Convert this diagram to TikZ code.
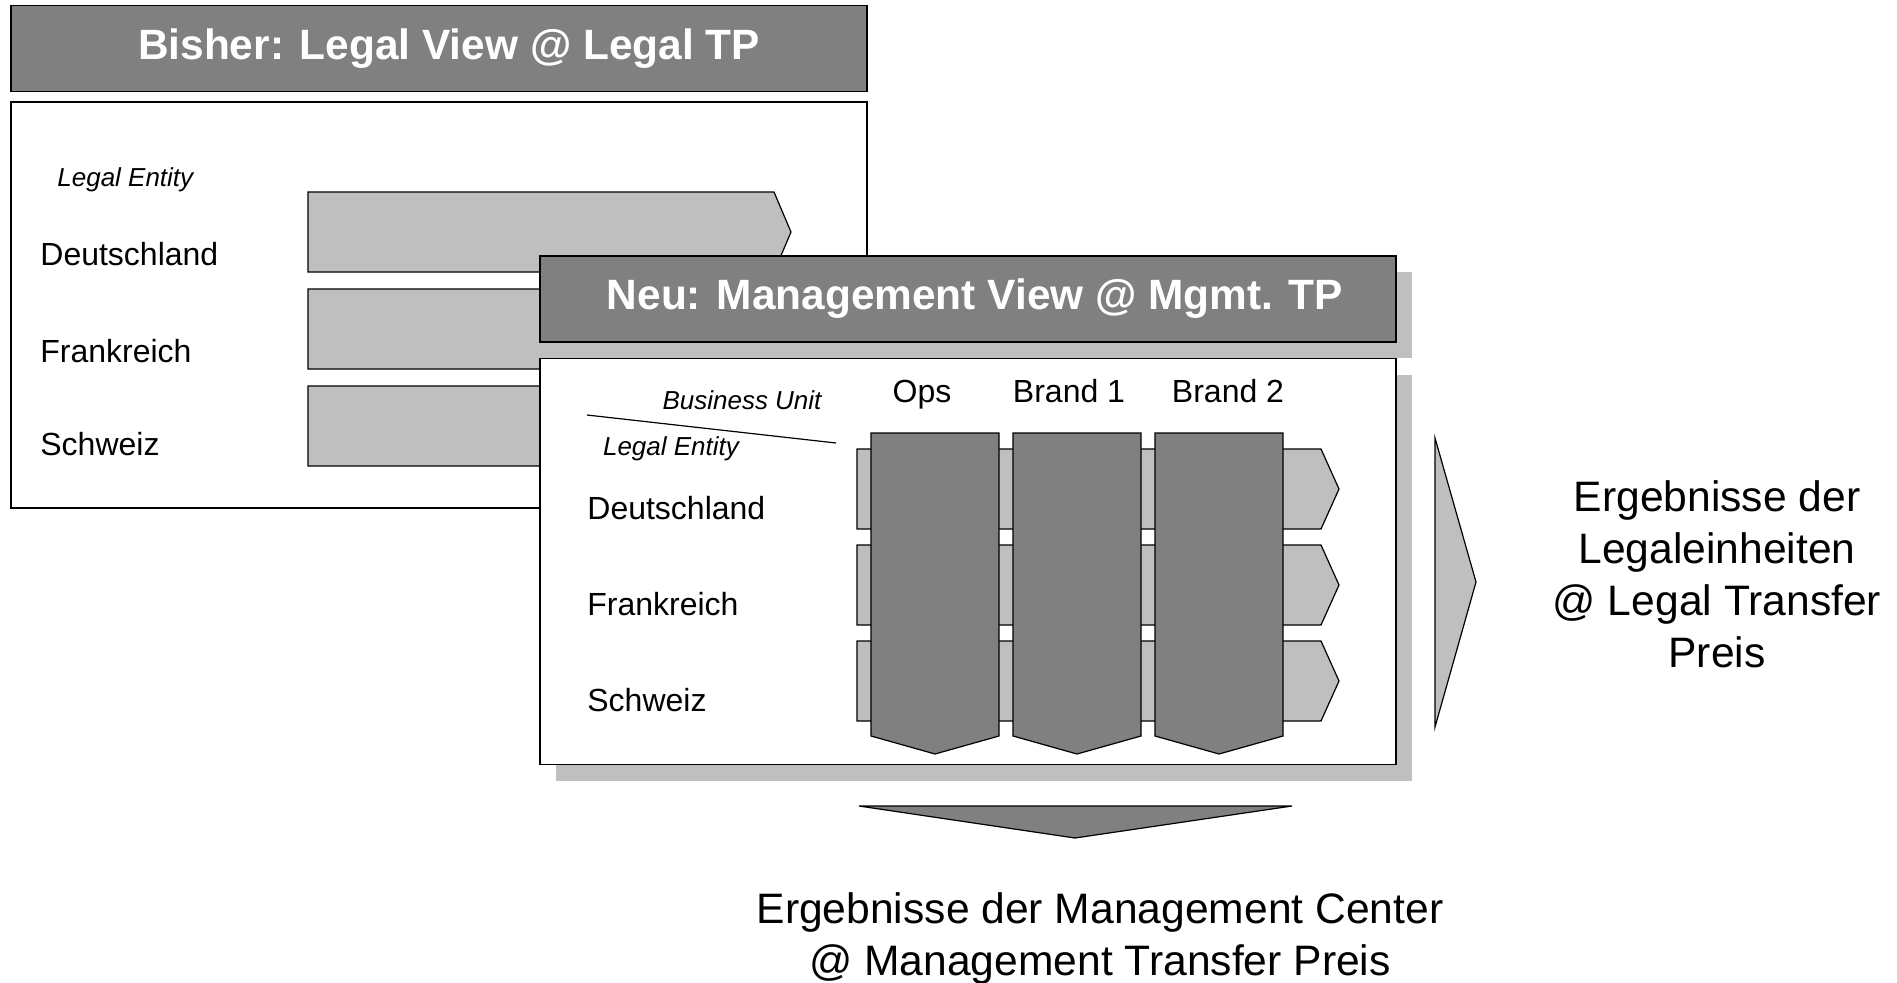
\documentclass[tikz,border=0pt]{standalone}
\usepackage{fontspec}
\setmainfont{Liberation Sans}
\usetikzlibrary{shadows}

\begin{document}
\begin{tikzpicture}[x=0.5pt,y=-0.5pt,
   every node/.style={inner sep=0pt},
   headbox/.style={draw,fill=black!50,line width=0.8pt,minimum width=428pt,minimum height=43pt},
   headtext/.style={text=white,font=\fontsize{21.2}{25}\selectfont\bfseries},
   viewbox/.style={draw,fill=white,line width=0.8pt,minimum width=428pt,minimum height=203pt},
   dropgray/.style={drop shadow={shadow xshift=8pt,shadow yshift=-8pt,fill=black!25,opacity=1}},
   entityname/.style={font=\fontsize{16}{19}\selectfont,anchor=west},
   axisname/.style={font=\fontsize{13}{16}\selectfont\itshape},
   unitname/.style={font=\fontsize{16}{19}\selectfont,anchor=base},
   resulttext/.style={font=\fontsize{21.3}{26}\selectfont,align=center},
   legalbar/.style={draw,fill=black!25,line width=0.6pt},
   unitbar/.style={draw,fill=black!50,line width=0.6pt}]
\useasboundingbox (0,0) rectangle (1897,982);

\node[headbox] (bisher) at (439,48.5) {};
\node[headtext,xshift=5pt] (bishertext) at (bisher) {Bisher: Legal View @ Legal TP};
\node[viewbox] (legal) at (439,305) {};
\node[axisname,anchor=west] (legalentity) at (57,180) {Legal Entity};
\foreach \y/\ly/\country [count=\i] in {232/254/Deutschland,329/351/Frankreich,426/444/Schweiz}{
  \draw[legalbar] (308,\y-40) -- (774,\y-40) -- (791,\y) -- (774,\y+40) -- (308,\y+40) -- cycle;
  \node[entityname] (land\i) at (40,\ly) {\country};
}

\node[headbox,dropgray] (neu) at (968,299) {};
\node[headtext,xshift=3.5pt] (neutext) at (neu) {Neu: Management View @ Mgmt. TP};
\node[viewbox,dropgray] (mgmt) at (968,561.5) {};
\node[axisname] (businessunit) at (742,400) {Business Unit};
\node[axisname] (mgmtentity) at (671,449) {Legal Entity};
\coordinate (diagA) at (587,415);
\coordinate (diagB) at (836,443);
\draw[line width=0.6pt] (diagA) -- (diagB);
\foreach \y/\country [count=\i] in {489/Deutschland,585/Frankreich,681/Schweiz}{
  \draw[legalbar] (857,\y-40) -- (1321,\y-40) -- (1339,\y) -- (1321,\y+40) -- (857,\y+40) -- cycle;
  \node[entityname] (row\i) at (587,\y+19) {\country};
}
\foreach \x/\unit/\dx [count=\i] in {935/Ops/-13,1077/Brand 1/-8,1219/Brand 2/9}{
  \draw[unitbar] (\x-64,433) -- (\x+64,433) -- (\x+64,736) -- (\x,754) -- (\x-64,736) -- cycle;
  \node[unitname] (unit\i) at (\x+\dx,402) {\unit};
}

\coordinate (rtop) at (1435,438);
\coordinate (rtip) at (1476,582);
\coordinate (rbot) at (1435,727);
\draw[legalbar] (rtop) -- (rtip) -- (rbot) -- cycle;
\node[resulttext] (legalresult) at (1717,574) {Ergebnisse der\\Legaleinheiten\\@ Legal Transfer\\Preis};

\coordinate (dleft) at (859,806);
\coordinate (dright) at (1292,806);
\coordinate (dtip) at (1075,838);
\draw[unitbar] (dleft) -- (dright) -- (dtip) -- cycle;
\node[resulttext] (mgmtresult) at (1100,938) {Ergebnisse der Management Center\\@ Management Transfer Preis};
\end{tikzpicture}
\end{document}
